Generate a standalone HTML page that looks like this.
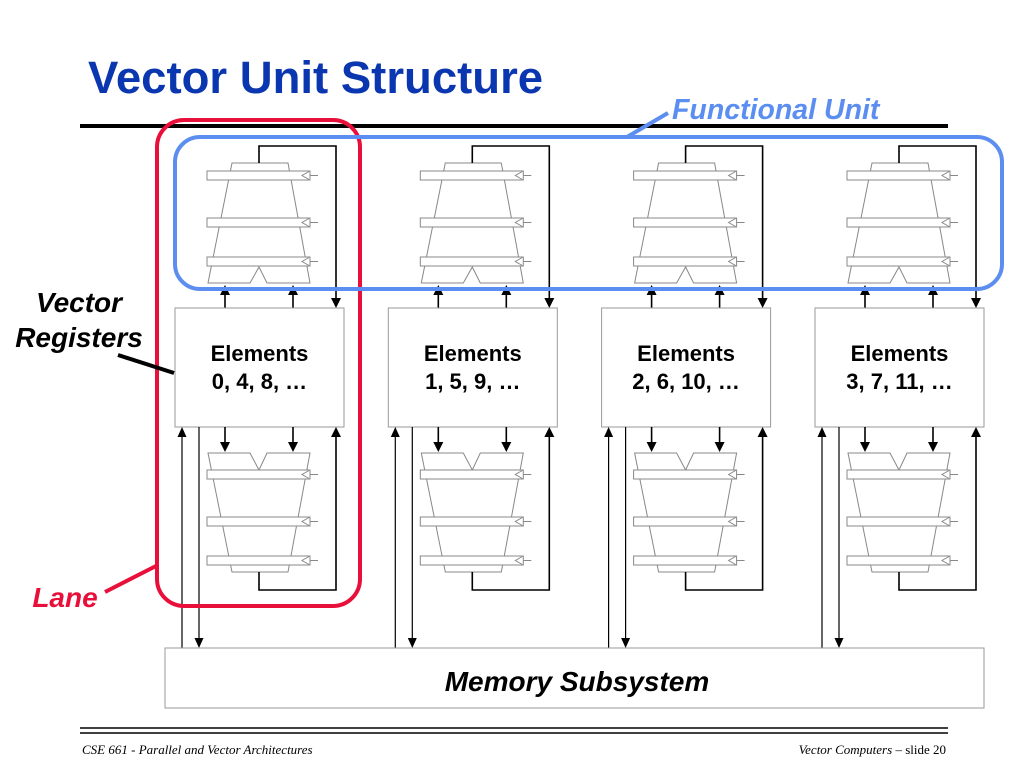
<!DOCTYPE html>
<html><head><meta charset="utf-8"><style>
html,body{margin:0;padding:0;background:#fff}
svg{display:block}
</style></head><body>
<svg width="1024" height="768" viewBox="0 0 1024 768" xmlns="http://www.w3.org/2000/svg">
<defs>
<g id="bar">
<rect x="0" y="0" width="103" height="9" fill="#fff" stroke="#888" stroke-width="1"/>
<path d="M102,0.5 L95,4.5 L102,8.5" fill="#fff" stroke="#888"/>
<line x1="103" y1="4.5" x2="111" y2="4.5" stroke="#888"/>
</g>
<g id="lane">
<path d="M232,163 L288,163 L310,283 L267,283 L259,267 L250,283 L208,283 Z" fill="#fff" stroke="#888"/>
<use href="#bar" x="207" y="171"/>
<use href="#bar" x="207" y="218"/>
<use href="#bar" x="207" y="257"/>
<path d="M259,163 L259,146 L336,146 L336,300" fill="none" stroke="#000" stroke-width="1.6"/>
<path d="M331,298 L341,298 L336,308 Z"/>
<line x1="225" y1="308" x2="225" y2="293" stroke="#000" stroke-width="1.6"/>
<path d="M220,295 L230,295 L225,285 Z"/>
<line x1="293" y1="308" x2="293" y2="293" stroke="#000" stroke-width="1.6"/>
<path d="M288,295 L298,295 L293,285 Z"/>
<rect x="175" y="308" width="169" height="119" fill="#fff" stroke="#999"/>
<line x1="225" y1="427" x2="225" y2="443" stroke="#000" stroke-width="1.6"/>
<path d="M220,442 L230,442 L225,452 Z"/>
<line x1="293" y1="427" x2="293" y2="443" stroke="#000" stroke-width="1.6"/>
<path d="M288,442 L298,442 L293,452 Z"/>
<path d="M208,453 L250,453 L259,470 L267,453 L310,453 L288,572 L232,572 Z" fill="#fff" stroke="#888"/>
<use href="#bar" x="207" y="470"/>
<use href="#bar" x="207" y="517"/>
<use href="#bar" x="207" y="556"/>
<path d="M259,572 L259,590 L336,590 L336,436" fill="none" stroke="#000" stroke-width="1.6"/>
<path d="M331,437 L341,437 L336,427 Z"/>
<line x1="182" y1="648" x2="182" y2="436" stroke="#000" stroke-width="1.2"/>
<path d="M177.5,437 L186.5,437 L182,427 Z"/>
<line x1="199" y1="427" x2="199" y2="639" stroke="#000" stroke-width="1.2"/>
<path d="M194.5,638 L203.5,638 L199,648 Z"/>
</g>
</defs>

<text x="88" y="93" font-family="Liberation Sans, sans-serif" font-weight="bold" font-size="45.5" fill="#0a36b0">Vector Unit Structure</text>
<line x1="80" y1="126" x2="948" y2="126" stroke="#000" stroke-width="4"/>

<use href="#lane" x="0"/>
<use href="#lane" x="213.3"/>
<use href="#lane" x="426.6"/>
<use href="#lane" x="640"/>

<g font-family="Liberation Sans, sans-serif" font-weight="bold" font-size="22" text-anchor="middle" fill="#000">
<text x="259.5" y="361">Elements</text><text x="259.5" y="389">0, 4, 8, …</text>
<text x="472.8" y="361">Elements</text><text x="472.8" y="389">1, 5, 9, …</text>
<text x="686.1" y="361">Elements</text><text x="686.1" y="389">2, 6, 10, …</text>
<text x="899.5" y="361">Elements</text><text x="899.5" y="389">3, 7, 11, …</text>
</g>

<rect x="165" y="648" width="819" height="60" fill="#fff" stroke="#999"/>
<text x="577" y="691" text-anchor="middle" font-family="Liberation Sans, sans-serif" font-weight="bold" font-style="italic" font-size="28">Memory Subsystem</text>

<rect x="157" y="120" width="203" height="486" rx="27" fill="none" stroke="#e8103a" stroke-width="4"/>
<rect x="175" y="137" width="827" height="152" rx="25" fill="none" stroke="#5b8ef0" stroke-width="4"/>

<line x1="627" y1="137" x2="668" y2="113" stroke="#5b8ef0" stroke-width="4"/>
<text x="672" y="119" font-family="Liberation Sans, sans-serif" font-weight="bold" font-style="italic" font-size="28.5" fill="#5b8ef0">Functional Unit</text>

<g font-family="Liberation Sans, sans-serif" font-weight="bold" font-style="italic" font-size="28" text-anchor="middle">
<text x="79" y="312">Vector</text>
<text x="79" y="347">Registers</text>
<text x="65" y="607" fill="#e8103a">Lane</text>
</g>
<line x1="118" y1="355" x2="174" y2="373" stroke="#000" stroke-width="4"/>
<line x1="105" y1="592" x2="156" y2="566" stroke="#e8103a" stroke-width="4"/>

<line x1="80" y1="728" x2="948" y2="728" stroke="#000" stroke-width="1.5"/>
<line x1="80" y1="733" x2="948" y2="733" stroke="#000" stroke-width="1.5"/>
<text x="82" y="754" font-family="Liberation Serif, serif" font-style="italic" font-size="13">CSE 661 - Parallel and Vector Architectures</text>
<text x="946" y="754" text-anchor="end" font-family="Liberation Serif, serif" font-size="13"><tspan font-style="italic">Vector Computers</tspan> – slide 20</text>
</svg>
</body></html>
